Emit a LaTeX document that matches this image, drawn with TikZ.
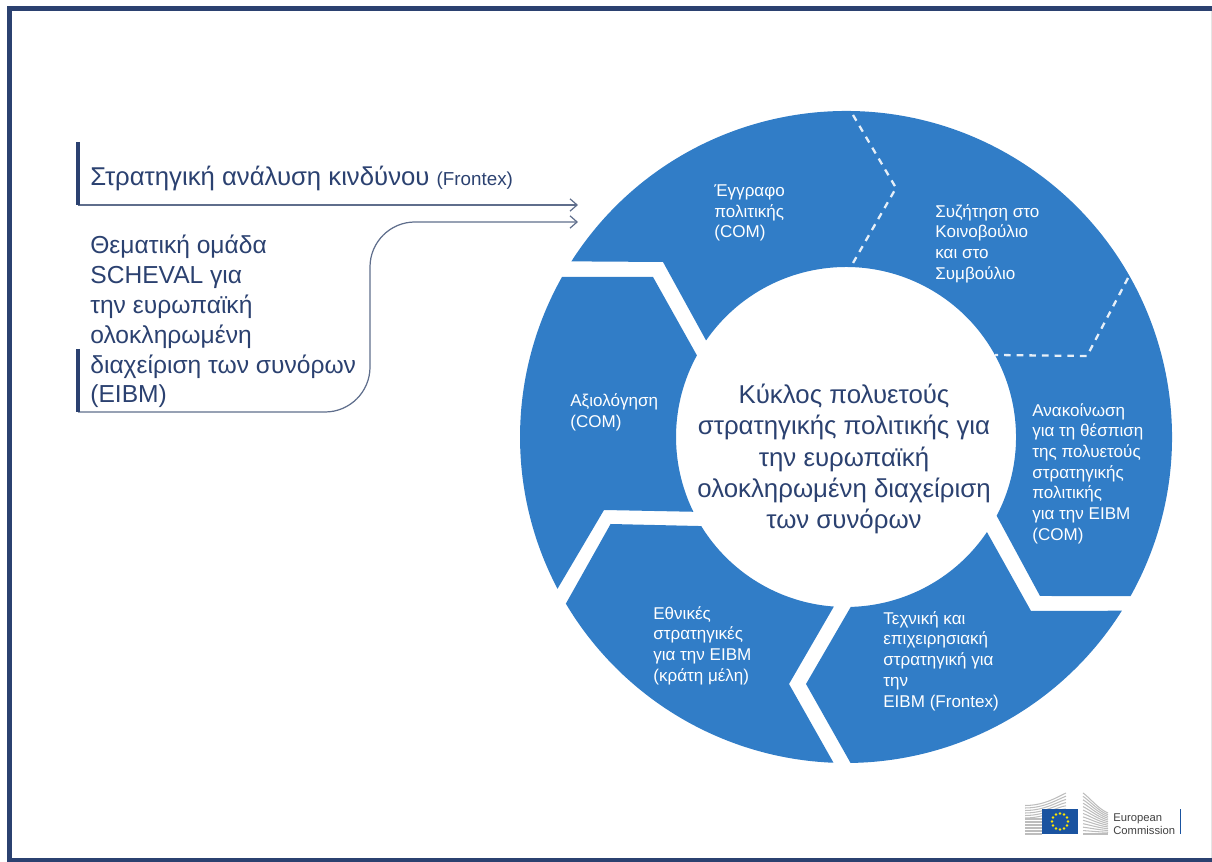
\documentclass[tikz,border=0pt]{standalone}
\usepackage{fontspec}
\setmainfont{Liberation Sans}
\usetikzlibrary{arrows.meta}
\definecolor{frameblue}{HTML}{2B4170}
\definecolor{ringblue}{HTML}{317DC7}
\definecolor{linegray}{HTML}{5F6E8C}
\definecolor{logogray}{HTML}{BDBDBD}
\definecolor{flagblue}{HTML}{1A53A0}
\tikzset{
	segment/.style={fill=ringblue,draw=none},
	seam/.style={white!88!ringblue,line width=1.3pt,dash pattern=on 3.8pt off 3.4pt},
	bar/.style={frameblue,line width=1.8pt},
	feed/.style={linegray,line width=0.7pt},
	label/.style={white,anchor=west,align=left,inner sep=0pt,font=\fontsize{9.7}{11.78}\selectfont},
	side/.style={frameblue,anchor=west,align=left,inner sep=0pt,font=\fontsize{14}{17}\selectfont},
}
\begin{document}
\begin{tikzpicture}[x=0.02cm,y=0.02cm]
	\useasboundingbox (0,0) rectangle (1212,861);
	\coordinate (Ctr) at (846,424);
	% frame
	\draw[black!10,line width=0.5pt] (1211,3) -- (1211,850);
	\draw[frameblue,line width=2.8pt] (9.5,-5) -- (9.5,852.5) -- (1220,852.5);
	\draw[frameblue,line width=2.2pt] (9.5,1) -- (1220,1);
	% top and right segment
	\coordinate (A1) at (1040,265);
	\coordinate (A2) at ([shift={(-27.6:170)}]Ctr);
	\coordinate (A3) at (663,599);
	\coordinate (A4) at ([shift={(147.4:326)}]Ctr);
	\coordinate (A5) at ([shift={(-29.2:326)}]Ctr);
	\fill[segment] (A4) arc[start angle=147.4,end angle=-29.2,radius=326] -- (A1) -- (A2)
		arc[start angle=-27.6,end angle=145.4,radius=170] -- (A3) -- cycle;
	% lower right segment
	\coordinate (B1) at ([shift={(-34:170)}]Ctr);
	\coordinate (B2) at (1031,250);
	\coordinate (B3) at ([shift={(-32.2:326)}]Ctr);
	\coordinate (B4) at (806,177);
	\fill[segment] (B1) -- (B2) -- (B3) arc[start angle=-32.2,end angle=-89.2,radius=326] -- (B4)
		-- ([shift={(-88.4:170)}]Ctr) arc[start angle=-88.4,end angle=-34,radius=170] -- cycle;
	% lower left segment
	\coordinate (C1) at ([shift={(-94.1:170)}]Ctr);
	\coordinate (C2) at (789,177);
	\coordinate (C3) at ([shift={(-92.2:326)}]Ctr);
	\coordinate (C4) at (610.6,337);
	\fill[segment] (C1) -- (C2) -- (C3) arc[start angle=-92.2,end angle=-149.25,radius=326] -- (C4)
		-- ([shift={(211.6:170)}]Ctr) arc[start angle=211.6,end angle=265.9,radius=170] -- cycle;
	% left segment
	\coordinate (D1) at ([shift={(207.75:326)}]Ctr);
	\coordinate (D2) at (653,584);
	\coordinate (D3) at ([shift={(151.3:170)}]Ctr);
	\coordinate (D4) at (604,351);
	\fill[segment] (D1) arc[start angle=207.75,end angle=150.6,radius=326] -- (D2) -- (D3)
		arc[start angle=151.3,end angle=206.1,radius=170] -- (D4) -- cycle;
	% dashed seams
	\coordinate (S1) at (853,746);
	\coordinate (S2) at (896,673);
	\coordinate (S3) at (853,598);
	\coordinate (S4) at (1128,583);
	\coordinate (S5) at (1087,505);
	\coordinate (S6) at (995,506);
	\draw[seam] (S1) -- (S2) -- (S3);
	\draw[seam] (S4) -- (S5) -- (S6);
	% segment labels
	\node[label] (doc) at (714,648) {Έγγραφο\\πολιτικής\\(COM)};
	\node[label] (debate) at (935,617.5) {Συζήτηση στο\\Κοινοβούλιο\\και στο\\Συμβούλιο};
	\node[label] (comm) at (1032,387.5) {Ανακοίνωση\\για τη θέσπιση\\της πολυετούς\\στρατηγικής\\πολιτικής\\για την EIBM\\(COM)};
	\node[label] (tech) at (883,200) {Τεχνική και\\επιχειρησιακή\\στρατηγική για\\την\\EIBM (Frontex)};
	\node[label] (nat) at (653,215.5) {Εθνικές\\στρατηγικές\\για την EIBM\\(κράτη μέλη)};
	\node[label] (eval) at (570,448.5) {Αξιολόγηση\\(COM)};
	\node[frameblue,align=center,inner sep=0pt,font=\fontsize{14.7}{17.7}\selectfont] (title) at (844,402) {Κύκλος πολυετούς\\στρατηγικής πολιτικής για\\την ευρωπαϊκή\\ολοκληρωμένη διαχείριση\\των συνόρων};
	% inputs on the left
	\node[side,font=\fontsize{14.65}{17}\selectfont] (risk) at (90,683) {Στρατηγική ανάλυση κινδύνου {\fontsize{10.7}{13}\selectfont(Frontex)}};
	\node[side] (group) at (90,539.5) {Θεματική ομάδα\\SCHEVAL για\\την ευρωπαϊκή\\ολοκληρωμένη\\διαχείριση των συνόρων\\(EIBM)};
	\coordinate (R1) at (78,656);
	\coordinate (R2) at (578,656);
	\coordinate (G1) at (78,449);
	\coordinate (G2) at (370,449);
	\coordinate (G3) at (370,639);
	\coordinate (G4) at (578,639);
	\draw[feed,-{Straight Barb[length=4pt,width=7pt]}] (R1) -- (R2);
	\draw[feed,rounded corners=0.9cm,-{Straight Barb[length=4pt,width=7pt]}] (G1) -- (G2) -- (G3) -- (G4);
	\draw[bar] (78,719) -- (R1);
	\draw[bar] (78,512) -- (G1);
	% logo
	\foreach \y in {27,30,...,42} {
		\draw[logogray,line width=0.7pt] (1025,\y) -- (1042,\y);
	}
	\foreach \i in {0,...,5} {
		\draw[logogray,line width=0.6pt] (1025,43+\i*2.5) .. controls (1045,43+\i*2.5) and (1058,52+\i*2.5) .. (1066,52+\i*3.2);
	}
	\foreach \i in {0,...,12} {
		\draw[logogray,line width=0.6pt] (1083,27+\i*3.42) .. controls (1090,27+\i*3) and (1098,27+\i*2.1) .. (1108,27+\i*1.75);
	}
	\fill[flagblue] (1042,27) rectangle (1078,52);
	\foreach \a in {0,30,...,330} {
		\fill[yellow!90!orange] ([shift={(\a:8)}]1060,39.5) circle (0.8pt);
	}
	\node[anchor=west,align=left,inner sep=0pt,text=black!75,font=\fontsize{6.4}{7.4}\selectfont] (ec) at (1113,37) {European\\Commission};
	\draw[flagblue,line width=1.1pt] (1180.5,27.5) -- (1180.5,52);
\end{tikzpicture}
\end{document}
